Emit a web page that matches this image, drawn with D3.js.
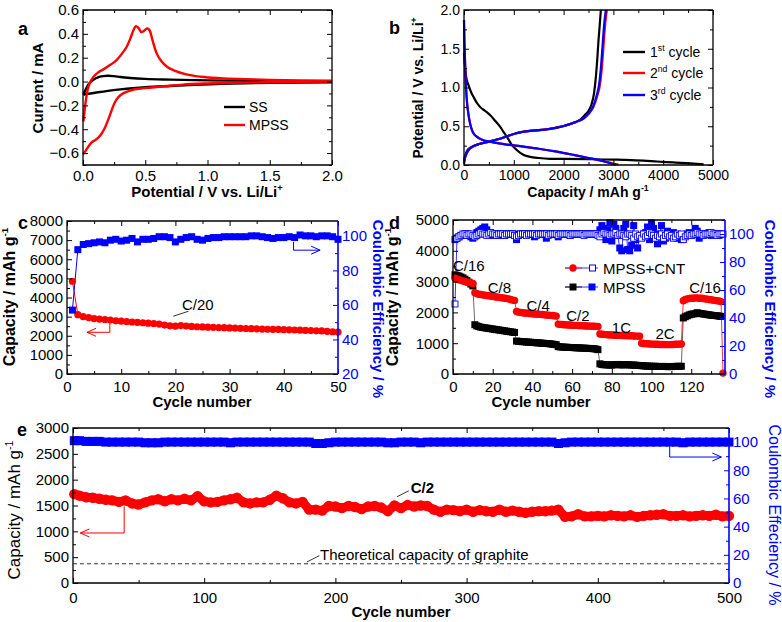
<!DOCTYPE html>
<html><head><meta charset="utf-8">
<script src="https://cdn.jsdelivr.net/npm/d3@7"></script>
<style>body{margin:0;background:#fff}svg{display:block}</style>
</head><body>
<svg id="fig" width="782" height="622"></svg>
<script>
// ---------------- DATA ----------------
// Panel a: cyclic voltammetry [V, mA]
const ssAnodic = [[0.003,-0.11],[0.02,-0.07],[0.04,-0.03],[0.065,0.0],[0.09,0.02],[0.12,0.035],[0.16,0.045],[0.2,0.049],[0.25,0.045],[0.3,0.038],[0.38,0.03],[0.5,0.022],[0.7,0.016],[1.0,0.01],[1.4,0.005],[2.0,0.0]];
const ssCathodic = [[2.0,-0.006],[1.5,-0.01],[1.2,-0.017],[0.9,-0.027],[0.7,-0.037],[0.5,-0.048],[0.4,-0.056],[0.3,-0.066],[0.2,-0.078],[0.12,-0.09],[0.06,-0.1],[0.02,-0.107],[0.003,-0.11]];
const mpssAnodic = [[0.003,-0.335],[0.02,-0.18],[0.037,-0.07],[0.06,0.0],[0.085,0.04],[0.12,0.075],[0.16,0.1],[0.22,0.14],[0.27,0.18],[0.31,0.23],[0.35,0.29],[0.38,0.36],[0.405,0.43],[0.425,0.465],[0.445,0.45],[0.47,0.415],[0.49,0.425],[0.515,0.445],[0.535,0.43],[0.56,0.34],[0.59,0.24],[0.63,0.17],[0.68,0.12],[0.74,0.09],[0.83,0.06],[0.95,0.04],[1.1,0.028],[1.3,0.02],[1.5,0.014],[1.75,0.01],[2.0,0.008]];
const mpssCathodic = [[2.0,0.0],[1.7,-0.003],[1.47,-0.006],[1.2,-0.01],[1.0,-0.016],[0.8,-0.026],[0.67,-0.038],[0.55,-0.05],[0.45,-0.06],[0.38,-0.075],[0.33,-0.095],[0.3,-0.115],[0.27,-0.15],[0.245,-0.2],[0.22,-0.27],[0.195,-0.34],[0.17,-0.4],[0.14,-0.45],[0.1,-0.49],[0.07,-0.51],[0.04,-0.55],[0.015,-0.59],[0.0,-0.61]];

// Panel b: voltage profiles [mAh/g, V]
const cyc1Discharge = [[0,1.45],[15,1.3],[40,1.15],[90,1.03],[150,0.93],[190,0.88],[260,0.8],[322,0.75],[420,0.7],[523,0.645],[620,0.575],[724,0.495],[800,0.42],[858,0.366],[950,0.27],[1059,0.194],[1200,0.13],[1327,0.105],[1500,0.09],[1729,0.08],[2000,0.078],[2533,0.075],[3000,0.07],[3203,0.066],[3600,0.056],[3874,0.045],[4200,0.033],[4544,0.02],[4812,0.008]];
const cyc1Charge = [[0,0.07],[30,0.13],[60,0.18],[120,0.22],[188,0.245],[300,0.27],[523,0.305],[700,0.335],[858,0.37],[1000,0.4],[1193,0.43],[1400,0.445],[1528,0.45],[1700,0.465],[1863,0.485],[2050,0.51],[2198,0.545],[2320,0.58],[2420,0.64],[2500,0.7],[2560,0.78],[2610,0.92],[2650,1.15],[2680,1.4],[2701,1.61],[2725,1.8],[2748,2.0]];
const cyc2Discharge = [[0,1.87],[8,1.6],[18,1.4],[30,1.15],[45,0.95],[65,0.78],[90,0.65],[121,0.54],[160,0.45],[200,0.4],[255,0.366],[350,0.33],[523,0.3],[800,0.27],[1193,0.237],[1500,0.21],[1863,0.172],[2200,0.13],[2533,0.086],[2800,0.05],[3000,0.02],[3100,0.005]];
const cyc2Charge = [[0,0.02],[20,0.09],[54,0.15],[100,0.2],[188,0.24],[300,0.27],[523,0.305],[700,0.335],[858,0.37],[1050,0.41],[1327,0.44],[1500,0.45],[1662,0.46],[1850,0.48],[2064,0.516],[2250,0.555],[2399,0.6],[2500,0.66],[2600,0.75],[2680,0.9],[2734,1.05],[2775,1.3],[2810,1.61],[2840,1.85],[2870,2.0]];
const cyc3Discharge = [[0,1.87],[8,1.6],[18,1.4],[30,1.15],[45,0.95],[65,0.78],[90,0.65],[121,0.54],[160,0.45],[200,0.4],[255,0.366],[350,0.33],[523,0.3],[800,0.27],[1193,0.237],[1500,0.21],[1863,0.172],[2200,0.13],[2533,0.086],[2800,0.05],[2950,0.02],[3050,0.005]];
const cyc3Charge = [[0,0.02],[20,0.09],[54,0.15],[100,0.2],[188,0.24],[300,0.27],[523,0.305],[700,0.335],[858,0.37],[1050,0.41],[1327,0.44],[1500,0.45],[1662,0.46],[1850,0.48],[2064,0.516],[2250,0.555],[2399,0.6],[2500,0.66],[2590,0.75],[2665,0.9],[2715,1.05],[2755,1.3],[2790,1.61],[2820,1.85],[2848,2.0]];

// Panel c: cycling at C/20 (cycles 1..50)
const cCapacity = [4850,3100,3000,2950,2900,2870,2850,2820,2780,2760,2740,2720,2700,2680,2660,2640,2610,2560,2520,2500,2530,2510,2490,2470,2460,2450,2440,2430,2420,2410,2400,2390,2380,2370,2360,2350,2340,2330,2330,2320,2310,2300,2290,2280,2270,2260,2250,2230,2210,2190];
const cCE = [57,92,95,95.5,96,96.5,96,97.5,98,97,97.5,98.5,96.5,98,98,98.5,99.5,99.5,99,96.5,98,99,99.5,98,97.5,98.5,99,99,99.5,99.5,99.5,99.5,99.5,100,100,99.5,99,98.5,99,99,99.5,99,100.5,100,100,99.5,100,100,99.5,98];

// Panel d: rate capability (cycles 1..136)
const dRates = [{t:"C/16",c:1},{t:"C/8",c:11},{t:"C/4",c:32},{t:"C/2",c:53},{t:"1C",c:74},{t:"2C",c:95},{t:"C/16",c:116}];
const dCapCNT = [3110,3080,3060,3040,3020,3000,2990,2970,2960,2940,
 2640,2610,2590,2580,2570,2560,2550,2540,2530,2520,2510,2500,2490,2480,2470,2460,2450,2440,2420,2400,2390,
 2030,2010,2000,1990,1980,1975,1970,1960,1955,1950,1945,1940,1935,1930,1920,1915,1910,1905,1900,1890,1880,
 1620,1610,1605,1600,1595,1590,1590,1585,1580,1580,1575,1570,1570,1565,1560,1560,1555,1550,1550,1545,1540,
 1300,1290,1285,1280,1275,1270,1265,1265,1260,1255,1255,1250,1250,1245,1245,1240,1240,1235,1230,1230,1225,
 1000,990,985,980,975,970,970,965,965,960,960,960,955,955,955,960,960,965,965,970,975,
 2380,2420,2440,2450,2460,2460,2470,2470,2460,2460,2450,2440,2430,2420,2410,2400,2390,2380,2370,2350,
 30];
const dCapMPSS = [3220,3200,3180,3150,3120,3080,3030,2980,2920,2860,
 1600,1560,1540,1520,1510,1500,1490,1480,1470,1460,1450,1440,1430,1420,1410,1400,1390,1380,1370,1360,1350,
 1070,1060,1055,1050,1045,1040,1035,1030,1025,1020,1015,1010,1005,1000,995,990,985,980,970,960,950,
 890,880,875,870,870,865,860,860,855,850,850,845,840,840,835,830,830,825,820,810,790,
 330,310,300,300,295,290,290,300,305,310,300,295,300,305,300,295,290,290,285,280,275,
 270,265,260,255,255,250,250,250,245,245,245,245,245,240,240,240,245,245,250,250,250,
 1820,1860,1890,1920,1940,1950,1960,1990,1970,1960,1950,1940,1930,1920,1910,1900,1900,1890,1880,1870];
const dCECNT = [50,97,98,99,100,100,99,100,100,99,
 98,99,100,101,100,100,99,100,101,100,100,99,100,100,100,99,100,100,100,100,99,
 98,99,100,100,100,99,100,100,100,100,99,100,100,100,100,100,99,100,100,100,100,
 99,100,100,100,100,100,99,100,100,100,100,100,100,99,100,100,100,100,100,100,99,
 98,100,101,100,100,99,100,100,101,99,100,100,99,98,100,100,99,97,100,98,99,
 97,100,98,99,101,100,99,97,99,98,100,97,99,100,98,99,97,98,100,99,100,
 96,98,99,100,99,100,100,101,100,100,99,100,100,100,101,100,100,99,100,100,
 100];
const dCEMPSS = [96,97,98,99,99,100,100,99,98,97,
 99,101,102,103,104,105,103,101,100,99,100,100,99,100,100,99,100,100,100,100,100,
 96,99,100,100,100,100,100,100,100,98,100,100,100,100,100,97,100,100,100,100,100,
 98,100,100,100,100,100,99,100,100,100,100,100,100,100,100,100,100,100,100,100,100,
 103,106,104,96,103,108,95,107,104,99,90,88,104,107,89,88,92,106,96,90,98,
 99,100,101,105,96,108,104,98,93,100,106,95,97,102,99,100,101,98,97,99,96,
 97,99,100,101,99,100,104,102,97,100,99,100,100,101,99,100,100,100,99,100];

// Panel e: long cycling at C/2 (sampled every 5 cycles, 0..500)
const eStep = 5;
const eCapacity = [1720,1690,1660,1650,1630,1610,1600,1570,1600,1540,1520,1560,1600,1620,1580,1620,1600,1630,1600,1680,
 1580,1560,1570,1600,1620,1650,1560,1540,1560,1560,1610,1690,1640,1560,1540,1570,1420,1420,1400,1490,
 1480,1450,1490,1470,1430,1480,1490,1460,1390,1500,1450,1510,1480,1500,1490,1420,1380,1420,1410,1390,
 1420,1380,1410,1390,1380,1420,1380,1400,1380,1360,1380,1390,1390,1400,1420,1280,1290,1330,1290,1290,
 1300,1290,1310,1300,1290,1310,1280,1300,1310,1320,1330,1300,1300,1310,1290,1300,1310,1300,1320,1290,1300];
const eCE = [101,101,100.5,100.5,100.5,100,100,100,100,100,100,99.5,99.5,99.5,100,100,100,100,100,100,
 100,100,100,100,99.5,100,100,100,100,100,100,100,100,100,100,100,100,99,99,99.5,
 100,100,100,100,100,100,100,100,99.5,99.5,100,100,100,99.5,100,100,100,100,100,100,
 100,100,100,100,100,100,100,100,100,100,100,100,100,100,99,99.5,100,100,100,100,
 100,100,100,100,100,100,100,100,100,100,100,100,100,99.5,100,100,100,100,100,100,100];
const graphiteTheoretical = 372;

// ---------------- DRAWING ----------------
const FONT = '"Liberation Sans", Arial, Helvetica, sans-serif';
const RED = '#ff0000', BLUE = '#0000ff', BLACK = '#000000';
const svg = d3.select('#fig');

function txt(x, y, parts, o = {}) {
  const fs = o.fs || 13;
  const t = svg.append('text').attr('x', x).attr('y', y)
    .attr('font-family', FONT).attr('font-size', fs)
    .attr('font-weight', o.bold ? 'bold' : 'normal')
    .attr('fill', o.color || BLACK).attr('text-anchor', o.anchor || 'start');
  if (o.rotate) t.attr('transform', `rotate(${o.rotate},${x},${y})`);
  if (typeof parts === 'string') parts = [[parts]];
  let raised = false;
  parts.forEach(([s, sup]) => {
    const sp = t.append('tspan').text(s);
    if (sup && !raised) { sp.attr('dy', -fs * 0.42).attr('font-size', fs * 0.62); raised = true; }
    else if (sup) { sp.attr('font-size', fs * 0.62); }
    else if (!sup && raised) { sp.attr('dy', fs * 0.42); raised = false; }
  });
  return t;
}

function styleAxis(g, fs, color) {
  g.select('.domain').remove();
  g.attr('font-family', FONT).attr('font-size', fs).attr('color', color || BLACK);
  g.selectAll('line').attr('stroke-width', 1);
}

function frame(o) {
  const x = o.x, y = o.y;
  const [L, R] = x.range(), [B, T] = y.range();
  const fs = o.fs || 13;
  const g = svg.append('g');
  const maj = 5, min = 3;
  g.append('g').attr('transform', `translate(0,${B})`)
    .call(d3.axisBottom(x).tickValues(o.xMaj).tickSize(-maj).tickPadding(o.xPad || 5).tickFormat(o.xFmt))
    .call(s => styleAxis(s, fs));
  g.append('g').attr('transform', `translate(0,${B})`)
    .call(d3.axisBottom(x).tickValues(o.xMin).tickSize(-min).tickFormat(''))
    .call(s => styleAxis(s, fs));
  g.append('g').attr('transform', `translate(0,${T})`)
    .call(d3.axisTop(x).tickValues(o.xMaj).tickSize(-maj).tickFormat(''))
    .call(s => styleAxis(s, fs));
  g.append('g').attr('transform', `translate(0,${T})`)
    .call(d3.axisTop(x).tickValues(o.xMin).tickSize(-min).tickFormat(''))
    .call(s => styleAxis(s, fs));
  g.append('g').attr('transform', `translate(${L},0)`)
    .call(d3.axisLeft(y).tickValues(o.yMaj).tickSize(-maj).tickPadding(o.yPad || 4).tickFormat(o.yFmt))
    .call(s => styleAxis(s, fs));
  g.append('g').attr('transform', `translate(${L},0)`)
    .call(d3.axisLeft(y).tickValues(o.yMin).tickSize(-min).tickFormat(''))
    .call(s => styleAxis(s, fs));
  if (o.y2) {
    g.append('g').attr('transform', `translate(${R},0)`)
      .call(d3.axisRight(o.y2).tickValues(o.y2Maj).tickSize(-maj).tickPadding(o.y2Pad || 4).tickFormat(d3.format('d')))
      .call(s => styleAxis(s, fs, BLUE));
    g.append('g').attr('transform', `translate(${R},0)`)
      .call(d3.axisRight(o.y2).tickValues(o.y2Min).tickSize(-min).tickFormat(''))
      .call(s => styleAxis(s, fs, BLUE));
  } else {
    g.append('g').attr('transform', `translate(${R},0)`)
      .call(d3.axisRight(y).tickValues(o.yMaj).tickSize(-maj).tickFormat(''))
      .call(s => styleAxis(s, fs));
    g.append('g').attr('transform', `translate(${R},0)`)
      .call(d3.axisRight(y).tickValues(o.yMin).tickSize(-min).tickFormat(''))
      .call(s => styleAxis(s, fs));
  }
  g.append('path').attr('d', `M${R},${T}H${L}V${B}H${R}`).attr('fill', 'none').attr('stroke', BLACK).attr('stroke-width', 1.3);
  g.append('line').attr('x1', R).attr('x2', R).attr('y1', T).attr('y2', B)
    .attr('stroke', o.y2 ? BLUE : BLACK).attr('stroke-width', o.y2 ? 1.6 : 1.3);
}

function rangeStep(a, b, s) { return d3.range(a, b + s / 2, s); }

function polyline(pts, color, w) {
  svg.append('path').attr('d', d3.line()(pts)).attr('fill', 'none').attr('stroke', color).attr('stroke-width', w || 1);
}
function arrowHead(tip, dir, color) {
  const s = 9, h = 4;
  polyline([[tip[0] - dir * s, tip[1] - h], tip, [tip[0] - dir * s, tip[1] + h]], color, 1);
}

// ===== Panel a =====
{
  const x = d3.scaleLinear().domain([0, 2]).range([83, 332]);
  const y = d3.scaleLinear().domain([-0.7, 0.6]).range([165, 10]);
  const line = d3.line().x(d => x(d[0])).y(d => y(d[1])).curve(d3.curveMonotoneX);
  [[ssAnodic, BLACK], [ssCathodic, BLACK], [mpssCathodic, RED], [mpssAnodic, RED]].forEach(([d, c]) => {
    svg.append('path').datum(d).attr('d', line).attr('fill', 'none').attr('stroke', c).attr('stroke-width', 2.4);
  });
  frame({x, y, fs: 15, xMaj: rangeStep(0, 2, 0.5), xMin: rangeStep(0.25, 1.75, 0.5), xFmt: d3.format('.1f'),
    yMaj: rangeStep(-0.6, 0.6, 0.2), yMin: rangeStep(-0.7, 0.5, 0.2), yFmt: d3.format('.1f')});
  [[BLACK, 'SS', 107], [RED, 'MPSS', 125]].forEach(([c, s, yy]) => {
    svg.append('line').attr('x1', 224).attr('x2', 245).attr('y1', yy).attr('y2', yy).attr('stroke', c).attr('stroke-width', 2.4);
    txt(249, yy + 5, s, {fs: 14});
  });
  txt(43, 88, 'Current / mA', {bold: true, fs: 15, anchor: 'middle', rotate: -90});
  txt(207, 197, [['Potential / V vs. Li/Li'], ['+', true]], {bold: true, fs: 15, anchor: 'middle'});
  txt(18, 35, 'a', {bold: true, fs: 18});
}

// ===== Panel b =====
{
  const x = d3.scaleLinear().domain([0, 5000]).range([464, 713]);
  const y = d3.scaleLinear().domain([0, 2]).range([165, 10]);
  const line = d3.line().x(d => x(d[0])).y(d => y(d[1])).curve(d3.curveMonotoneX);
  [[cyc1Discharge, BLACK], [cyc1Charge, BLACK], [cyc2Discharge, RED], [cyc2Charge, RED], [cyc3Discharge, BLUE], [cyc3Charge, BLUE]].forEach(([d, c]) => {
    svg.append('path').datum(d).attr('d', line).attr('fill', 'none').attr('stroke', c).attr('stroke-width', 2.2);
  });
  frame({x, y, fs: 14, xMaj: rangeStep(0, 5000, 1000), xMin: rangeStep(500, 4500, 1000), xFmt: d3.format('d'),
    yMaj: rangeStep(0, 2, 0.5), yMin: rangeStep(0.25, 1.75, 0.5), yFmt: d3.format('.1f')});
  [[BLACK, '1', 'st', 52], [RED, '2', 'nd', 73], [BLUE, '3', 'rd', 95]].forEach(([c, n, sup, yy]) => {
    svg.append('line').attr('x1', 623).attr('x2', 645).attr('y1', yy).attr('y2', yy).attr('stroke', c).attr('stroke-width', 2.4);
    txt(650, yy + 5, [[n], [sup, true], [' cycle']], {fs: 14});
  });
  txt(423, 88, [['Potential / V vs. Li/Li'], ['+', true]], {bold: true, fs: 14, anchor: 'middle', rotate: -90});
  txt(588, 197, [['Capacity / mAh g'], ['-1', true]], {bold: true, fs: 14, anchor: 'middle'});
  txt(389, 34, 'b', {bold: true, fs: 18});
}

// ===== Panel c =====
{
  const x = d3.scaleLinear().domain([0, 50]).range([67, 338]);
  const y = d3.scaleLinear().domain([0, 8000]).range([374, 221]);
  const y2 = d3.scaleLinear().domain([20, 108.6]).range([374, 221]);
  const cyc = cCapacity.map((_, i) => i + 1);
  svg.append('path').datum(cyc).attr('d', d3.line().x(d => x(d)).y((d, i) => y(cCapacity[i])))
    .attr('fill', 'none').attr('stroke', RED).attr('stroke-width', 1);
  svg.append('path').datum(cyc).attr('d', d3.line().x(d => x(d)).y((d, i) => y2(cCE[i])))
    .attr('fill', 'none').attr('stroke', BLUE).attr('stroke-width', 1);
  svg.append('g').selectAll('circle').data(cyc).join('circle')
    .attr('cx', d => x(d)).attr('cy', (d, i) => y(cCapacity[i])).attr('r', 3.6).attr('fill', RED);
  svg.append('g').selectAll('rect').data(cyc).join('rect')
    .attr('x', d => x(d) - 3.5).attr('y', (d, i) => y2(cCE[i]) - 3.5).attr('width', 7).attr('height', 7).attr('fill', BLUE);
  frame({x, y, y2, fs: 15, xPad: 7, xMaj: rangeStep(0, 50, 10), xMin: rangeStep(5, 45, 10), xFmt: d3.format('d'),
    yMaj: rangeStep(0, 8000, 1000), yMin: rangeStep(500, 7500, 1000), yFmt: d3.format('d'),
    y2Maj: rangeStep(20, 100, 20), y2Min: rangeStep(30, 100, 20)});
  polyline([[x(7.9), y(2650)], [x(7.9), y(2180)], [x(3.7), y(2180)]], RED, 1);
  arrowHead([x(3.7), y(2180)], -1, RED);
  polyline([[x(41.8), y2(96.5)], [x(41.8), y2(91.7)], [x(46.7), y2(91.7)]], BLUE, 1);
  arrowHead([x(46.7), y2(91.7)], 1, BLUE);
  txt(x(21.2), y(3370), 'C/20', {fs: 15});
  polyline([[x(22.4), y(3280)], [x(19.6), y(3020)]], BLACK, 0.8);
  txt(15, 297, [['Capacity / mAh g'], ['-1', true]], {bold: true, fs: 16, anchor: 'middle', rotate: -90});
  txt(373, 309, 'Coulombic Efficiency / %', {bold: true, fs: 15, anchor: 'middle', rotate: 90, color: BLUE});
  txt(202, 407, 'Cycle number', {bold: true, fs: 15, anchor: 'middle'});
  txt(18, 229, 'c', {bold: true, fs: 18});
}

// ===== Panel d =====
{
  const x = d3.scaleLinear().domain([0, 137]).range([453, 725]);
  const y = d3.scaleLinear().domain([0, 5000]).range([374, 220]);
  const y2 = d3.scaleLinear().domain([0, 110]).range([374, 220]);
  const lineThin = (vals, sc, c) => svg.append('path').datum(vals)
    .attr('d', d3.line().x((d, i) => x(i + 1)).y(d => sc(d))).attr('fill', 'none').attr('stroke', c).attr('stroke-width', 0.8);
  lineThin(dCECNT, y2, BLUE);
  lineThin(dCEMPSS, y2, BLUE);
  svg.append('g').selectAll('rect').data(dCEMPSS).join('rect')
    .attr('x', (d, i) => x(i + 1) - 3.5).attr('y', d => y2(d) - 3.5).attr('width', 7).attr('height', 7).attr('fill', BLUE);
  svg.append('g').selectAll('rect').data(dCECNT).join('rect')
    .attr('x', (d, i) => x(i + 1) - 3).attr('y', d => y2(d) - 3).attr('width', 6).attr('height', 6)
    .attr('fill', '#fff').attr('stroke', BLUE).attr('stroke-width', 0.9);
  lineThin(dCapMPSS, y, '#444');
  lineThin(dCapCNT, y, RED);
  svg.append('g').selectAll('rect').data(dCapMPSS).join('rect')
    .attr('x', (d, i) => x(i + 1) - 3.5).attr('y', d => y(d) - 3.5).attr('width', 7).attr('height', 7).attr('fill', BLACK);
  svg.append('g').selectAll('circle').data(dCapCNT).join('circle')
    .attr('cx', (d, i) => x(i + 1)).attr('cy', d => y(d)).attr('r', 3.7).attr('fill', RED);
  frame({x, y, y2, fs: 15, xPad: 7, xMaj: rangeStep(0, 120, 20), xMin: rangeStep(10, 130, 20), xFmt: d3.format('d'),
    yMaj: rangeStep(0, 5000, 1000), yMin: rangeStep(500, 4500, 1000), yFmt: d3.format('d'),
    y2Maj: rangeStep(0, 100, 20), y2Min: rangeStep(10, 110, 20)});
  const labPos = [[0, 3344], [17.5, 2630], [37, 2040], [57, 1710], [80, 1330], [102, 1130], [119, 2630]];
  dRates.forEach((r, i) => txt(x(labPos[i][0]), y(labPos[i][1]), r.t, {fs: 15}));
  [[268, 'MPSS+CNT', true], [287, 'MPSS', false]].forEach(([yy, s, cnt]) => {
    svg.append('line').attr('x1', 565).attr('x2', 598).attr('y1', yy).attr('y2', yy).attr('stroke', BLUE).attr('stroke-width', 0.8);
    svg.append('line').attr('x1', 565).attr('x2', 582).attr('y1', yy).attr('y2', yy).attr('stroke', cnt ? RED : BLACK).attr('stroke-width', 0.8);
    if (cnt) svg.append('circle').attr('cx', 573).attr('cy', yy).attr('r', 3.7).attr('fill', RED);
    else svg.append('rect').attr('x', 569.5).attr('y', yy - 3.5).attr('width', 7).attr('height', 7).attr('fill', BLACK);
    if (cnt) svg.append('rect').attr('x', 589.5).attr('y', yy - 3).attr('width', 6).attr('height', 6).attr('fill', '#fff').attr('stroke', BLUE);
    else svg.append('rect').attr('x', 588.5).attr('y', yy - 3.5).attr('width', 7).attr('height', 7).attr('fill', BLUE);
    txt(603, yy + 5.5, s, {fs: 15});
  });
  txt(398, 297, [['Capacity / mAh g'], ['-1', true]], {bold: true, fs: 16, anchor: 'middle', rotate: -90});
  txt(765, 309, 'Coulombic Efficiency / %', {bold: true, fs: 15, anchor: 'middle', rotate: 90, color: BLUE});
  txt(541, 407, 'Cycle number', {bold: true, fs: 15, anchor: 'middle'});
  txt(389, 229, 'd', {bold: true, fs: 18});
}

// ===== Panel e =====
{
  const x = d3.scaleLinear().domain([0, 500]).range([73, 729]);
  const y = d3.scaleLinear().domain([0, 3000]).range([583, 428]);
  const y2 = d3.scaleLinear().domain([0, 110]).range([583, 428]);
  const cyc = eCapacity.map((_, i) => Math.max(1, i * eStep));
  svg.append('line').attr('x1', x(0)).attr('x2', x(500)).attr('y1', y(graphiteTheoretical)).attr('y2', y(graphiteTheoretical))
    .attr('stroke', '#333').attr('stroke-width', 1).attr('stroke-dasharray', '4,3');
  svg.append('path').datum(cyc).attr('d', d3.line().x(d => x(d)).y((d, i) => y(eCapacity[i])))
    .attr('fill', 'none').attr('stroke', RED).attr('stroke-width', 9).attr('stroke-linejoin', 'round');
  svg.append('g').selectAll('circle').data(cyc).join('circle')
    .attr('cx', d => x(d)).attr('cy', (d, i) => y(eCapacity[i])).attr('r', 5.2).attr('fill', RED);
  svg.append('path').datum(cyc).attr('d', d3.line().x(d => x(d)).y((d, i) => y2(eCE[i])))
    .attr('fill', 'none').attr('stroke', BLUE).attr('stroke-width', 8);
  svg.append('g').selectAll('rect').data(cyc).join('rect')
    .attr('x', d => x(d) - 4.5).attr('y', (d, i) => y2(eCE[i]) - 4.5).attr('width', 9).attr('height', 9).attr('fill', BLUE);
  frame({x, y, y2, fs: 15, xPad: 9, xMaj: rangeStep(0, 500, 100), xMin: rangeStep(50, 450, 100), xFmt: d3.format('d'),
    yMaj: rangeStep(0, 3000, 500), yMin: rangeStep(250, 2750, 500), yFmt: d3.format('d'),
    y2Maj: rangeStep(0, 100, 20), y2Min: rangeStep(10, 110, 20)});
  polyline([[x(39), y(1482)], [x(39), y(968)], [x(5.6), y(968)]], RED, 1);
  arrowHead([x(5.6), y(968)], -1, RED);
  polyline([[x(454.8), y2(100)], [x(454.8), y2(89.4)], [x(494.2), y2(89.4)]], BLUE, 1);
  arrowHead([x(494.2), y2(89.4)], 1, BLUE);
  txt(x(188.3), y(451), 'Theoretical capacity of graphite', {fs: 15});
  polyline([[x(187.8), y(530)], [x(178.2), y(406)]], BLACK, 0.8);
  txt(x(257.4), y(1748), 'C/2', {fs: 15, bold: true});
  polyline([[x(256), y(1786)], [x(247), y(1670)]], BLACK, 0.8);
  txt(20, 510, [['Capacity / mAh g'], ['-1', true]], {fs: 17, anchor: 'middle', rotate: -90});
  txt(769, 515, 'Coulombic Effeciency / %', {fs: 16, anchor: 'middle', rotate: 90, color: BLUE});
  txt(401, 617, 'Cycle number', {bold: true, fs: 15, anchor: 'middle'});
  txt(17, 436, 'e', {bold: true, fs: 18});
}
</script>
</body></html>
